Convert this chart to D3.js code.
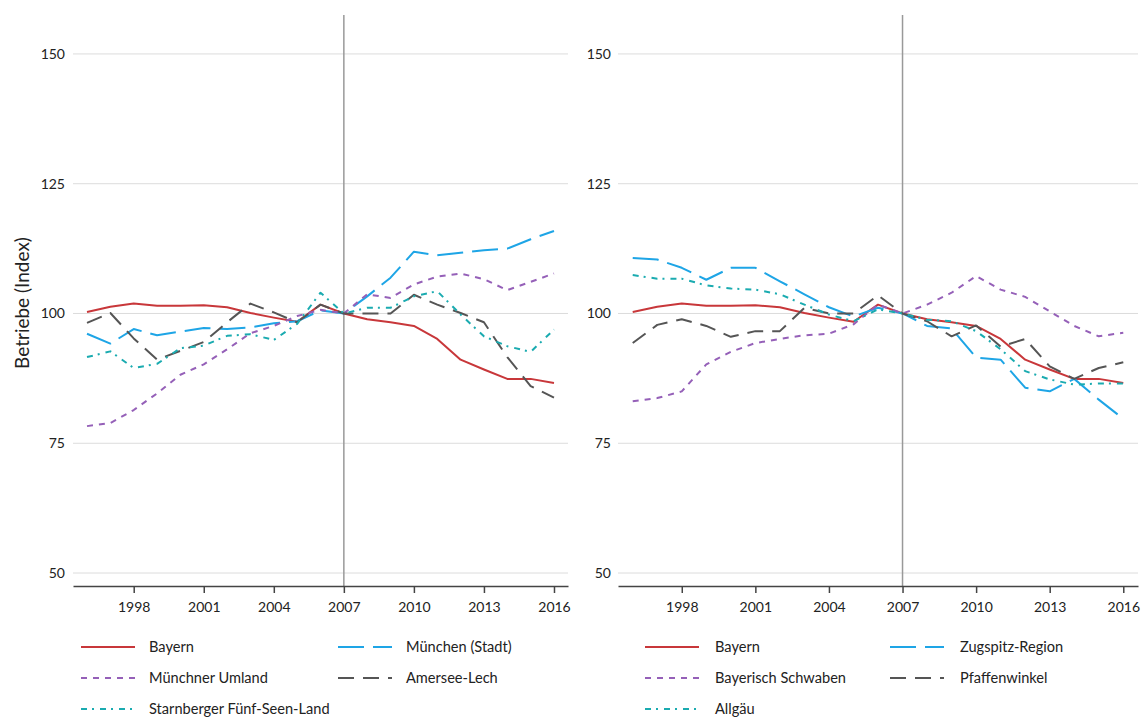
<!DOCTYPE html>
<html><head><meta charset="utf-8">
<script src="https://cdn.jsdelivr.net/npm/d3@7"></script>
<style>body{margin:0;background:#fff;font-family:Lato,"Noto Sans",sans-serif;}</style>
</head><body><svg id="c" width="1142" height="718"></svg>
<script>
const years = [1996,1997,1998,1999,2000,2001,2002,2003,2004,2005,2006,2007,2008,2009,2010,2011,2012,2013,2014,2015,2016];
const xTicks = [1998,2001,2004,2007,2010,2013,2016];
const yTicks = [50,75,100,125,150];
const refYear = 2007;

const bayern = [100.3,101.3,101.9,101.5,101.5,101.6,101.2,100.1,99.2,98.4,101.7,100,98.9,98.3,97.6,95.1,91.1,89.2,87.4,87.4,86.6];
// left panel
const muenchenStadt = [96.1,94.2,97.0,95.8,96.5,97.2,97.0,97.3,98.1,98.5,100.6,100,103.3,106.9,111.9,111.2,111.7,112.2,112.5,114.3,115.9];
const muenchnerUmland = [78.3,78.9,81.4,84.6,88.2,90.2,93.1,96.2,97.6,99.5,100.7,100,103.7,103.0,105.6,107.1,107.7,106.6,104.5,106.1,107.7];
const amerseeLech = [98.2,100.1,95.2,91.1,92.8,94.5,98.3,101.9,100.2,98.3,101.7,100,100,100,103.6,101.7,100.1,98.3,91.6,86.0,83.8];
const starnberger = [91.6,92.7,89.5,90.3,93.3,93.8,95.7,96.0,94.9,98.0,104.0,100,101.1,101.1,103.3,104.3,99.8,95.6,93.7,92.6,96.9];
// right panel
const zugspitz = [110.7,110.4,108.8,106.5,108.8,108.8,106.2,103.7,101.2,99.4,101.1,100,97.6,97.1,91.5,91.1,85.7,85.0,87.4,83.4,79.7];
const schwaben = [83.1,83.7,85.0,90.2,92.6,94.3,95.1,95.8,96.1,97.9,101.7,100,101.7,104.0,107.2,104.6,103.2,100.4,97.6,95.6,96.3];
const pfaffenwinkel = [94.3,97.8,98.9,97.6,95.5,96.6,96.6,101.1,100.0,100.0,103.5,100,98.5,95.6,97.7,93.6,95.1,89.8,87.4,89.5,90.6];
const allgaeu = [107.4,106.7,106.7,105.4,104.8,104.6,103.7,101.7,99.8,98.5,100.8,100,98.8,98.5,96.6,93.1,88.9,87.3,86.3,86.5,86.5];

const leftNames = ["Bayern","München (Stadt)","Münchner Umland","Amersee-Lech","Starnberger Fünf-Seen-Land"];
const rightNames = ["Bayern","Zugspitz-Region","Bayerisch Schwaben","Pfaffenwinkel","Allgäu"];

const colors = ["#c8373a","#1ea5e6","#9560b8","#555555","#1aabb0"];
const dashes = [null,"26 9","6 6","16 9","6 5 2 6"];

const svg = d3.select("#c");
const y = d3.scaleLinear().domain([47.5,157.5]).range([586,15]);

function panel(x0, x1, labelRight, names, series) {
  const x = d3.scaleLinear().domain([1995.4,2016.6]).range([x0,x1]);
  const g = svg.append("g");
  g.selectAll("line.grid").data(yTicks).join("line")
    .attr("x1",x0).attr("x2",x1).attr("y1",d=>y(d)).attr("y2",d=>y(d))
    .attr("stroke","#dcdcdc").attr("stroke-width",1);
  g.selectAll("text.yt").data(yTicks).join("text")
    .attr("x",labelRight).attr("y",d=>y(d)).attr("dy","0.35em")
    .attr("text-anchor","end").attr("font-size",14).attr("fill","#222").text(d=>d);
  g.append("line").attr("x1",x(refYear)).attr("x2",x(refYear)).attr("y1",15).attr("y2",586)
    .attr("stroke","#999").attr("stroke-width",1.5);
  const ax = g.append("g").attr("transform","translate(0,586)")
    .call(d3.axisBottom(x).tickValues(xTicks).tickFormat(d3.format("d")).tickSize(7).tickSizeOuter(0));
  ax.select(".domain").attr("stroke","#444").attr("stroke-width",1.5);
  ax.selectAll(".tick line").attr("stroke","#444").attr("stroke-width",1.5);
  ax.selectAll(".tick text").attr("font-size",14).attr("font-family","Lato,'Noto Sans',sans-serif").attr("fill","#222").attr("dy","1.15em");
  const line = d3.line().x((d,i)=>x(years[i])).y(d=>y(d));
  series.forEach((s,k)=>{
    g.append("path").attr("d",line(s)).attr("fill","none")
      .attr("stroke",colors[k]).attr("stroke-width",2)
      .attr("stroke-dasharray",dashes[k]).attr("stroke-linejoin","round");
  });
  return x;
}

panel(73,568,65,leftNames,[bayern,muenchenStadt,muenchnerUmland,amerseeLech,starnberger]);
panel(618,1138,611,rightNames,[bayern,zugspitz,schwaben,pfaffenwinkel,allgaeu]);

svg.append("text").attr("transform","translate(29,303) rotate(-90)")
  .attr("text-anchor","middle").attr("font-size",19).attr("fill","#222").text("Betriebe (Index)");

function legend(names, colX, lineW, textOff) {
  const pos = [[0,0],[1,0],[0,1],[1,1],[0,2]];
  names.forEach((n,k)=>{
    const lx = colX[pos[k][0]], ly = 647 + pos[k][1]*31;
    svg.append("line").attr("x1",lx).attr("x2",lx+lineW).attr("y1",ly).attr("y2",ly)
      .attr("stroke",colors[k]).attr("stroke-width",2).attr("stroke-dasharray",dashes[k]);
    svg.append("text").attr("x",lx+textOff).attr("y",ly).attr("dy","0.35em")
      .attr("font-size",14.6).attr("fill","#222").text(n);
  });
}
legend(leftNames,[81,338],54,68);
legend(rightNames,[645,890],54,70);
</script></body></html>
